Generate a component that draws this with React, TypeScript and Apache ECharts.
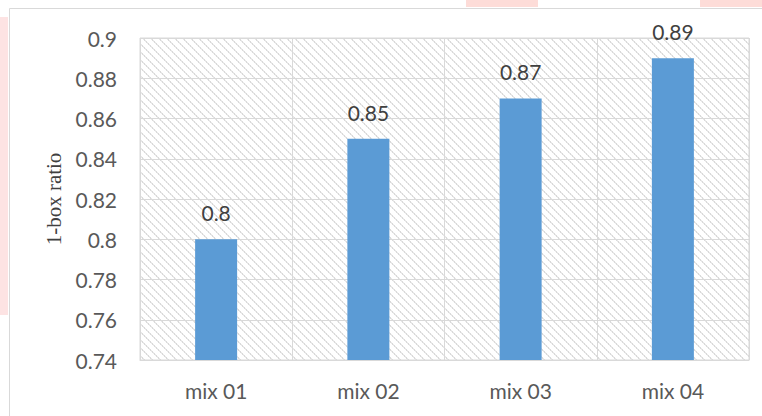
import React, { useEffect, useRef } from "react";
import * as echarts from "echarts";

const categories = ["mix 01", "mix 02", "mix 03", "mix 04"];
const values = [0.8, 0.85, 0.87, 0.89];
const yMin = 0.74;
const yMax = 0.9;
const yStep = 0.02;
const yAxisName = "1-box ratio";

function makeHatch(): string {
  const c = document.createElement("canvas");
  c.width = 8;
  c.height = 8;
  const ctx = c.getContext("2d")!;
  ctx.fillStyle = "#ffffff";
  ctx.fillRect(0, 0, 8, 8);
  for (let y = 0; y < 8; y++) {
    ctx.fillStyle = y % 2 === 0 ? "#dadada" : "#e8e8e8";
    ctx.fillRect(y % 8, y, 1, 1);
    ctx.fillStyle = y % 2 === 0 ? "#e8e8e8" : "#dadada";
    ctx.fillRect((y + 1) % 8, y, 1, 1);
  }
  return c.toDataURL();
}

export default function App() {
  const ref = useRef<HTMLDivElement>(null);
  useEffect(() => {
    if (!ref.current) return;
    const chart = echarts.init(ref.current, undefined, { renderer: "svg" });
    const hatch = makeHatch();
    const font = "Lato, 'Open Sans', sans-serif";
    chart.setOption({
      animation: false,
      backgroundColor: "#ffffff",
      graphic: [
        { type: "rect", shape: { x: 0, y: 17, width: 8, height: 298 }, style: { fill: "#fde3e3" }, silent: true },
        { type: "rect", shape: { x: 466, y: 0, width: 72, height: 7 }, style: { fill: "#fddcd8" }, silent: true },
        { type: "rect", shape: { x: 700, y: 0, width: 62, height: 7 }, style: { fill: "#fddcd8" }, silent: true },
        { type: "rect", shape: { x: 9.5, y: 8.5, width: 800, height: 500 }, style: { fill: "none", stroke: "#d9d9d9", lineWidth: 1 }, silent: true, z: 100 },
      ],
      grid: {
        left: 140,
        top: 38,
        right: 13,
        bottom: 56,
        show: true,
        borderColor: "#d9d9d9",
        borderWidth: 1,
        backgroundColor: { image: hatch, repeat: "repeat" },
      },
      xAxis: {
        type: "category",
        data: categories,
        axisLine: { show: true, lineStyle: { color: "#d9d9d9", width: 1 } },
        axisTick: { show: false },
        splitLine: { show: true, lineStyle: { color: "#d9d9d9", width: 1 } },
        axisLabel: { color: "#595959", fontSize: 21, fontFamily: font, margin: 20 },
      },
      yAxis: {
        type: "value",
        min: yMin,
        max: yMax,
        interval: yStep,
        name: yAxisName,
        nameLocation: "middle",
        nameGap: 76,
        nameTextStyle: { color: "#404040", fontSize: 21, fontFamily: "'Liberation Serif', 'Times New Roman', serif" },
        axisLine: { show: false },
        axisTick: { show: false },
        splitLine: { show: true, lineStyle: { color: "#d9d9d9", width: 1 } },
        axisLabel: {
          color: "#595959",
          fontSize: 21,
          fontFamily: font,
          margin: 23,
          formatter: (v: number) => String(parseFloat(v.toFixed(2))),
        },
      },
      series: [
        {
          type: "bar",
          data: values,
          barWidth: 42,
          itemStyle: { color: "#5b9bd5" },
          label: {
            show: true,
            position: "top",
            distance: 16,
            color: "#404040",
            fontSize: 21,
            fontFamily: font,
          },
        },
      ],
    });
    return () => chart.dispose();
  }, []);
  return <div ref={ref} style={{ position: "fixed", left: 0, top: 0, width: 762, height: 416 }} />;
}
